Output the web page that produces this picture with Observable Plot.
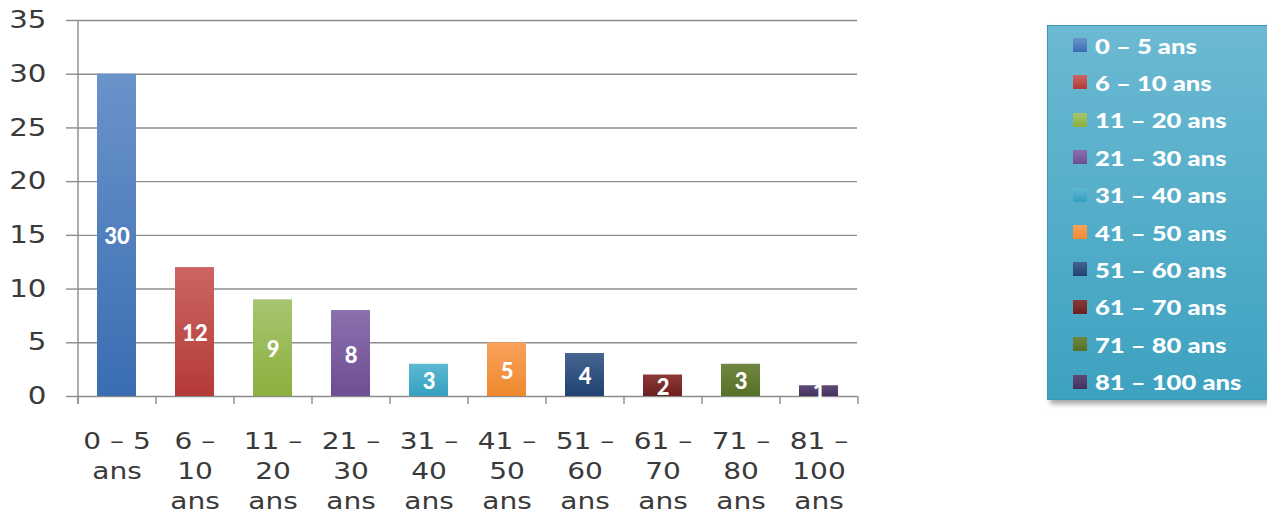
<!DOCTYPE html>
<html>
<head>
<meta charset="utf-8">
<script src="https://cdn.jsdelivr.net/npm/d3@7"></script>
<script src="https://cdn.jsdelivr.net/npm/@observablehq/plot@0.6"></script>
<style>
  html, body { margin: 0; padding: 0; background: #fff; }
  #wrap { position: relative; width: 1267px; height: 518px; overflow: hidden; }
  #chart { position: absolute; left: 0; top: 0; }
  #legend {
    position: absolute; left: 1047px; top: 25px; width: 222px; height: 375px;
    background: linear-gradient(to bottom, #6cb9d2, #3da2c0);
    border: 1px solid #3a98b5; box-sizing: border-box;
    box-shadow: 3px 4px 5px rgba(0,0,0,0.35);
  }
  .item { position: absolute; left: 25px; height: 30px; display: flex; align-items: center; }
  .sw { width: 14px; height: 14px; margin-right: 8px; }
  .lt { font-family: Lato, "Open Sans", sans-serif; font-weight: 900; font-size: 21px; color: #fff;
        display: inline-block; transform: scaleX(1.22); transform-origin: left center; white-space: nowrap; }
</style>
</head>
<body>
<div id="wrap">
  <div id="chart"></div>
  <div id="legend"></div>
</div>
<script>
// ---- data ----
const categories = ["0 – 5 ans", "6 – 10 ans", "11 – 20 ans", "21 – 30 ans", "31 – 40 ans",
                    "41 – 50 ans", "51 – 60 ans", "61 – 70 ans", "71 – 80 ans", "81 – 100 ans"];
const values = [30, 12, 9, 8, 3, 5, 4, 2, 3, 1];
const xTickLabels = ["0 – 5\nans", "6 –\n10\nans", "11 –\n20\nans", "21 –\n30\nans", "31 –\n40\nans",
                     "41 –\n50\nans", "51 –\n60\nans", "61 –\n70\nans", "71 –\n80\nans", "81 –\n100\nans"];
const yTicks = [0, 5, 10, 15, 20, 25, 30, 35];
// bar colours (top, bottom of gradient)
const colorsTop    = ["#6a93cb", "#cc6562", "#a7c56f", "#8b70ad", "#5db8d2", "#f9a25c", "#46648f", "#8c3a38", "#6f8740", "#5d4a77"];
const colorsBottom = ["#3a6db2", "#b43a37", "#8bb03f", "#6d4e92", "#34a0c0", "#ee892e", "#1f4272", "#6c1f1f", "#577027", "#45315e"];

const data = categories.map((c, i) => ({category: c, value: values[i], label: xTickLabels[i]}));

// ---- layout ----
const W = 870, H = 518, mL = 77, mR = 13, mT = 20, mB = 122;
const half = (W - mL - mR) / categories.length / 2;
const gridColor = "#8c8c8c";
const textStretch = 1.22;

const gradIds = categories.map((c, i) => `url(#bargrad${i})`);

const plot = Plot.plot({
  width: W, height: H,
  marginLeft: mL, marginRight: mR, marginTop: mT, marginBottom: mB,
  style: {fontFamily: "DejaVu Sans, sans-serif", background: "transparent"},
  x: {domain: categories, paddingInner: 0.5, paddingOuter: 0.25, axis: null},
  y: {domain: [0, 35], axis: null},
  color: {domain: categories, range: gradIds},
  marks: [
    Plot.gridY(yTicks, {stroke: gridColor, strokeOpacity: 1, strokeWidth: 1.4}),
    Plot.axisY(yTicks, {tickSize: 11, tickPadding: 20, fontSize: 24, stroke: gridColor, strokeWidth: 1.4, fill: "#3a3a3a", label: null}),
    Plot.axisX({tickSize: 0, tickPadding: 31, fontSize: 23, lineHeight: 1.3, fill: "#3a3a3a", label: null,
      tickFormat: (d) => xTickLabels[categories.indexOf(d)]}),
    Plot.ruleX([categories[0]], {x: d => d, dx: -half, y1: 35, y2: 0, insetBottom: -8, stroke: gridColor, strokeWidth: 1.4}),
    Plot.ruleX(categories, {x: d => d, dx: -half, y1: 0, y2: 0, insetBottom: -8, stroke: gridColor, strokeWidth: 1.4}),
    Plot.ruleX([categories[categories.length - 1]], {x: d => d, dx: half, y1: 0, y2: 0, insetBottom: -8, stroke: gridColor, strokeWidth: 1.4}),
    Plot.barY(data, {x: "category", y: "value", fill: "category"}),
    Plot.text(data, {x: "category", y: d => d.value / 2, text: d => String(d.value), fill: "#fff", dy: 2,
      fontSize: 22, fontWeight: 900, fontFamily: "Lato, 'Open Sans', sans-serif"})
  ]
});

// stretch axis tick labels horizontally (reference type is wide)
plot.querySelectorAll('g[aria-label="y-axis tick label"] text, g[aria-label="x-axis tick label"] text').forEach(t => {
  const tr = t.getAttribute("transform") || "";
  t.setAttribute("transform", tr + ` scale(${textStretch},1)`);
});

// gradient defs
const ns = "http://www.w3.org/2000/svg";
const defs = document.createElementNS(ns, "defs");
categories.forEach((c, i) => {
  const lg = document.createElementNS(ns, "linearGradient");
  lg.setAttribute("id", `bargrad${i}`);
  lg.setAttribute("x1", "0"); lg.setAttribute("y1", "0");
  lg.setAttribute("x2", "0"); lg.setAttribute("y2", "1");
  [[0, colorsTop[i]], [1, colorsBottom[i]]].forEach(([o, col]) => {
    const s = document.createElementNS(ns, "stop");
    s.setAttribute("offset", o); s.setAttribute("stop-color", col);
    lg.appendChild(s);
  });
  defs.appendChild(lg);
});
plot.insertBefore(defs, plot.firstChild);
document.getElementById("chart").appendChild(plot);

// legend
const legend = document.getElementById("legend");
categories.forEach((c, i) => {
  const it = document.createElement("div");
  it.className = "item";
  it.style.top = (4 + i * 37.4) + "px";
  const sw = document.createElement("span");
  sw.className = "sw";
  sw.style.background = `linear-gradient(to bottom, ${colorsTop[i]}, ${colorsBottom[i]})`;
  const t = document.createElement("span");
  t.className = "lt";
  t.textContent = c;
  it.appendChild(sw); it.appendChild(t);
  legend.appendChild(it);
});
</script>
</body>
</html>
